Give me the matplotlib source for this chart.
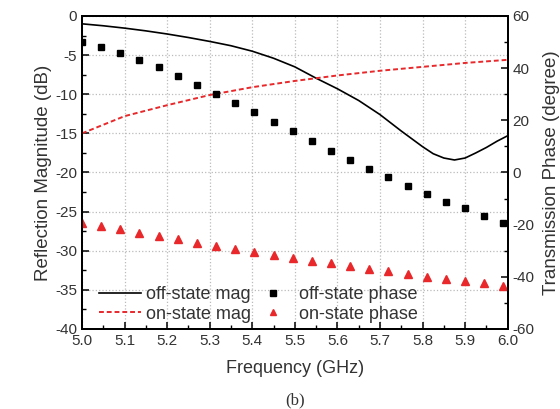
import matplotlib.pyplot as plt
from matplotlib.ticker import MultipleLocator

plt.rcParams['font.family'] = ['Liberation Sans', 'DejaVu Sans']
plt.rcParams['axes.unicode_minus'] = False

# frequency grid of the curves (GHz)
freqLine = [5.0, 5.05, 5.1, 5.15, 5.2, 5.25, 5.3, 5.35, 5.4, 5.45, 5.5, 5.55,
            5.6, 5.65, 5.7, 5.75, 5.8, 5.825, 5.85, 5.875, 5.9, 5.925, 5.95, 5.975, 6.0]
offMag = [-1.0, -1.25, -1.55, -1.9, -2.3, -2.75, -3.25, -3.8, -4.5, -5.4, -6.5, -7.95,
          -9.3, -10.8, -12.6, -14.7, -16.7, -17.6, -18.15, -18.4, -18.15, -17.5, -16.8, -16.0, -15.3]
freqOn = [5.0, 5.1, 5.2, 5.3, 5.4, 5.5, 5.6, 5.7, 5.8, 5.9, 6.0]
onMag = [-15.0, -12.8, -11.4, -10.1, -9.1, -8.3, -7.6, -7.0, -6.5, -6.0, -5.6]

# frequency grid of the phase markers (GHz)
freqPts = [5.0, 5.045, 5.09, 5.135, 5.18, 5.225, 5.27, 5.315, 5.36, 5.405, 5.45, 5.495,
           5.54, 5.585, 5.63, 5.675, 5.72, 5.765, 5.81, 5.855, 5.9, 5.945, 5.99]
offPhase = [49.9, 48.0, 45.7, 43.1, 40.3, 37.0, 33.6, 30.2, 26.8, 23.2, 19.5, 15.9,
            12.1, 8.4, 4.8, 1.2, -1.9, -5.2, -8.3, -11.2, -13.7, -16.7, -19.5]
onPhase = [-19.2, -20.5, -21.8, -23.1, -24.4, -25.6, -26.9, -28.2, -29.5, -30.5, -31.6, -32.9,
           -33.9, -34.8, -35.9, -37.1, -37.9, -38.9, -40.0, -41.0, -41.6, -42.5, -43.4]

red = '#e8282b'
txt = '#333333'

fig = plt.figure(figsize=(5.6, 4.09), dpi=100)
ax1 = fig.add_axes([0.1464, 0.1956, 0.7602, 0.7653])
ax2 = ax1.twinx()

l1, = ax1.plot(freqLine, offMag, color='black', lw=1.2, label='off-state mag')
l2, = ax1.plot(freqOn, onMag, color=red, lw=1.4, ls=(0, (2.5, 1.5)), label='on-state mag')
s1, = ax2.plot(freqPts, offPhase, ls='none', marker='s', ms=4.8, color='black', label='off-state phase')
s2, = ax2.plot(freqPts, onPhase, ls='none', marker='^', ms=5.8, color=red, label='on-state phase')

ax1.set_xlim(5.0, 6.0)
ax1.set_ylim(-40, 0)
ax2.set_ylim(-60, 60)

ax1.xaxis.set_major_locator(MultipleLocator(0.1))
ax1.xaxis.set_minor_locator(MultipleLocator(0.05))
ax1.yaxis.set_major_locator(MultipleLocator(5))
ax1.yaxis.set_minor_locator(MultipleLocator(2.5))
ax2.yaxis.set_major_locator(MultipleLocator(20))
ax2.yaxis.set_minor_locator(MultipleLocator(10))
ax1.xaxis.set_major_formatter(plt.FormatStrFormatter('%.1f'))

for ax in (ax1, ax2):
    ax.tick_params(which='major', direction='in', length=5, width=1.1, labelsize=11, labelcolor=txt)
    ax.tick_params(which='minor', direction='in', length=3, width=1.0)
    for sp in ax.spines.values():
        sp.set_linewidth(1.4)

ax1.grid(True, which='major', ls=':', color='#bbbbbb', lw=0.9)
ax1.set_axisbelow(True)

ax1.set_xlabel('Frequency (GHz)', fontsize=13, color=txt, labelpad=9)
ax1.set_ylabel('Reflection Magnitude (dB)', fontsize=13.5, color=txt, labelpad=2)
ax2.set_ylabel('Transmission Phase (degree)', fontsize=13.5, color=txt, labelpad=6)

ax1.legend([l1, l2, s1, s2], ['off-state mag', 'on-state mag', 'off-state phase', 'on-state phase'],
           ncol=2, loc='lower left', bbox_to_anchor=(0.002, -0.032), frameon=False, fontsize=13,
           handlelength=2.3, handletextpad=0.3, columnspacing=0.05, labelspacing=0.15,
           numpoints=1, markerscale=0.85, labelcolor=txt)

fig.text(0.527, 0.022, '(b)', ha='center', va='center', fontsize=12, family='Liberation Serif', color=txt)

plt.savefig('out.png', dpi=100)
